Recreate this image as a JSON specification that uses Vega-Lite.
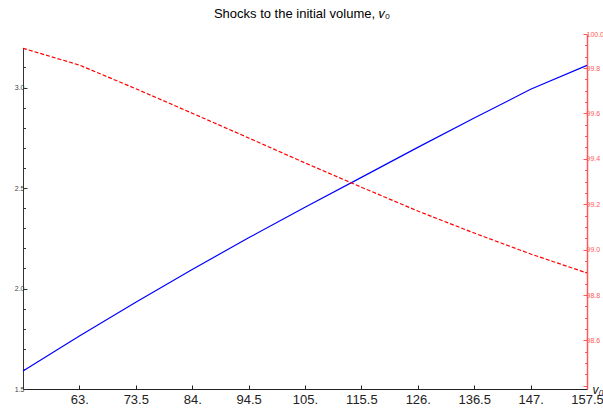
{
  "$schema": "https://vega.github.io/schema/vega-lite/v6.json",
  "width": 564,
  "height": 355,
  "autosize": {"type": "none"},
  "padding": {"left": 23, "top": 34, "right": 16, "bottom": 21},
  "background": "white",
  "title": {
    "text": "Shocks to the initial volume, 𝑣₀",
    "frame": "group",
    "anchor": "middle",
    "font": "Liberation Sans",
    "fontSize": 13,
    "fontWeight": "normal",
    "color": "#000000",
    "baseline": "alphabetic",
    "offset": 16,
    "dx": -3,
    "dy": 17
  },
  "config": {
    "view": {"stroke": null},
    "axis": {"grid": false, "labelFont": "Liberation Sans", "titleFont": "Liberation Sans"}
  },
  "data": {
    "values": [
      {"v0": 52.5, "series_a": 1.590, "series_b": 99.887},
      {"v0": 63.0, "series_a": 1.764, "series_b": 99.813},
      {"v0": 73.5, "series_a": 1.932, "series_b": 99.709},
      {"v0": 84.0, "series_a": 2.095, "series_b": 99.601},
      {"v0": 94.5, "series_a": 2.252, "series_b": 99.492},
      {"v0": 105.0, "series_a": 2.404, "series_b": 99.382},
      {"v0": 115.5, "series_a": 2.553, "series_b": 99.275},
      {"v0": 126.0, "series_a": 2.702, "series_b": 99.170},
      {"v0": 136.5, "series_a": 2.848, "series_b": 99.073},
      {"v0": 147.0, "series_a": 2.991, "series_b": 98.981},
      {"v0": 157.5, "series_a": 3.110, "series_b": 98.897}
    ]
  },
  "encoding": {
    "x": {
      "field": "v0",
      "type": "quantitative",
      "scale": {"domain": [52.5, 157.5], "nice": false, "zero": false},
      "axis": {
        "values": [63, 73.5, 84, 94.5, 105, 115.5, 126, 136.5, 147, 157.5],
        "labelExpr": "datum.value % 1 == 0 ? format(datum.value, 'd') + '.' : format(datum.value, '.1f')",
        "tickSize": -4,
        "tickColor": "#222222",
        "domainColor": "#222222",
        "domainWidth": 1,
        "labelFontSize": 13,
        "labelColor": "#222222",
        "labelPadding": 8,
        "labelFlush": false,
        "labelOverlap": false,
        "title": "v₀",
        "titleFontStyle": "italic",
        "titleFontWeight": "normal",
        "titleFontSize": 12,
        "titleColor": "#222222",
        "titleAlign": "left",
        "titleBaseline": "alphabetic",
        "titleAnchor": null,
        "titleX": 569,
        "titleY": 4
      }
    }
  },
  "layer": [
    {
      "mark": {"type": "line", "color": "#0000ff", "strokeWidth": 1.2},
      "encoding": {
        "y": {
          "field": "series_a",
          "type": "quantitative",
          "scale": {"domain": [1.5, 3.2662], "nice": false, "zero": false},
          "axis": {
            "orient": "left",
            "values": [1.5, 1.6, 1.7, 1.8, 1.9, 2.0, 2.1, 2.2, 2.3, 2.4, 2.5, 2.6, 2.7, 2.8, 2.9, 3.0, 3.1],
            "labelExpr": "abs(datum.value * 2 - round(datum.value * 2)) < 0.001 ? format(datum.value, '.1f') : ''",
            "tickSize": {"condition": {"test": "abs(datum.value * 2 - round(datum.value * 2)) < 0.001", "value": -4}, "value": -2.5},
            "tickColor": "#333333",
            "domainColor": "#333333",
            "domainWidth": 1,
            "domainDash": [341, 1000],
            "labelFontSize": 7,
            "labelColor": "#444444",
            "labelPadding": 3,
            "labelFlush": false,
            "labelOverlap": false,
            "title": null
          }
        }
      }
    },
    {
      "mark": {"type": "line", "color": "#ff0000", "strokeWidth": 1.2, "strokeDash": [4, 2]},
      "encoding": {
        "y": {
          "field": "series_b",
          "type": "quantitative",
          "scale": {"domain": [98.386, 99.95], "nice": false, "zero": false},
          "axis": {
            "orient": "right",
            "values": [98.4, 98.45, 98.5, 98.55, 98.6, 98.65, 98.7, 98.75, 98.8, 98.85, 98.9, 98.95, 99.0, 99.05, 99.1, 99.15, 99.2, 99.25, 99.3, 99.35, 99.4, 99.45, 99.5, 99.55, 99.6, 99.65, 99.7, 99.75, 99.8, 99.85, 99.9, 99.95],
            "labelExpr": "(abs(datum.value * 5 - round(datum.value * 5)) < 0.001 && datum.value > 98.5) || datum.value > 99.94 ? format(datum.value, '.1f') : ''",
            "tickSize": {"condition": {"test": "abs(datum.value * 5 - round(datum.value * 5)) < 0.001 || datum.value > 99.94", "value": -4}, "value": -2.5},
            "tickColor": "#ff5a5a",
            "domainColor": "#ff5a5a",
            "domainWidth": 1.5,
            "labelFontSize": 7,
            "labelColor": "#ff5a5a",
            "labelPadding": 3,
            "labelFlush": false,
            "labelOverlap": false,
            "title": null
          }
        }
      }
    }
  ],
  "resolve": {"scale": {"y": "independent"}, "axis": {"y": "independent"}}
}
